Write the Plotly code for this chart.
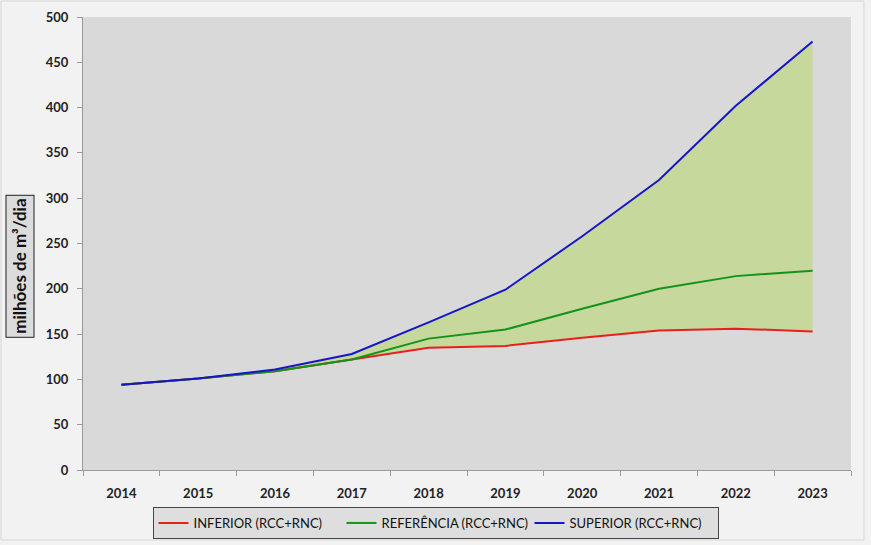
import plotly.graph_objects as go

years = ["2014", "2015", "2016", "2017", "2018", "2019", "2020", "2021", "2022", "2023"]
inferior = [94, 101, 109, 122, 135, 137, 146, 154, 156, 153]
referencia = [94, 101, 109, 122, 145, 155, 178, 200, 214, 220]
superior = [94, 101, 111, 128, 163, 199, 258, 320, 402, 473]

FONT = "Lato, Open Sans, sans-serif"

fig = go.Figure()
# band fill between inferior and superior
fig.add_trace(go.Scatter(x=years, y=inferior, mode="lines", line=dict(width=0, color="rgba(0,0,0,0)"),
                         showlegend=False, hoverinfo="skip"))
fig.add_trace(go.Scatter(x=years, y=superior, mode="lines", line=dict(width=0, color="rgba(0,0,0,0)"),
                         fill="tonexty", fillcolor="#c6d89c", showlegend=False, hoverinfo="skip"))

fig.add_trace(go.Scatter(x=years, y=inferior, mode="lines", name="INFERIOR (RCC+RNC)",
                         line=dict(color="#e8201c", width=2)))
fig.add_trace(go.Scatter(x=years, y=referencia, mode="lines", name="REFERÊNCIA (RCC+RNC)",
                         line=dict(color="#12941a", width=2)))
fig.add_trace(go.Scatter(x=years, y=superior, mode="lines", name="SUPERIOR (RCC+RNC)",
                         line=dict(color="#1616c8", width=2)))

fig.update_layout(
    width=871, height=545,
    margin=dict(l=83, r=20, t=17, b=75, autoexpand=False),
    paper_bgcolor="#f2f2f2",
    plot_bgcolor="#d9d9d9",
    showlegend=True,
    legend=dict(orientation="h", x=0.5, xanchor="center", xref="container",
                y=1 - 507 / 545, yanchor="top", yref="container",
                traceorder="normal",
                bgcolor="#dedede", bordercolor="#444", borderwidth=1,
                font=dict(family=FONT, size=13, color="#111"),
                itemwidth=30, tracegroupgap=0,
                entrywidth=143, entrywidthmode="pixels"),
    xaxis=dict(type="category", range=[-0.5, 9.5], showgrid=False, zeroline=False, showline=True,
               linecolor="#9a9a9a", ticks="outside", ticklen=5, tickcolor="#9a9a9a", tickson="boundaries",
               tickfont=dict(family=FONT, size=13, color="#222", weight="bold"),
               ticklabelstandoff=11),
    yaxis=dict(range=[0, 500], dtick=50, showgrid=False, zeroline=False, showline=True, linecolor="#9a9a9a",
               ticks="outside", ticklen=5, tickcolor="#9a9a9a",
               tickfont=dict(family=FONT, size=13, color="#222", weight="bold"),
               ticklabelstandoff=6),
    annotations=[dict(text="milhões de m³/dia", xref="paper", yref="paper", x=-0.0825, y=0.45,
                      xanchor="center", yanchor="middle", textangle=-90, showarrow=False,
                      font=dict(family=FONT, size=17, color="#111", weight="bold"),
                      bgcolor="#dcdcdc", bordercolor="#222", borderwidth=1, borderpad=3)],
    shapes=[dict(type="rect", xref="paper", yref="paper",
                 x0=(1 - 83) / 768, x1=(864 - 83) / 768,
                 y0=-(540 - 470) / 453, y1=(470 - 1) / 453,
                 line=dict(color="#d6d6d6", width=1), fillcolor="rgba(0,0,0,0)", layer="below")],
)

fig.write_html("out.html", config={"displayModeBar": False},
               post_script="document.body.style.margin='0';document.body.style.background='#ffffff';")
